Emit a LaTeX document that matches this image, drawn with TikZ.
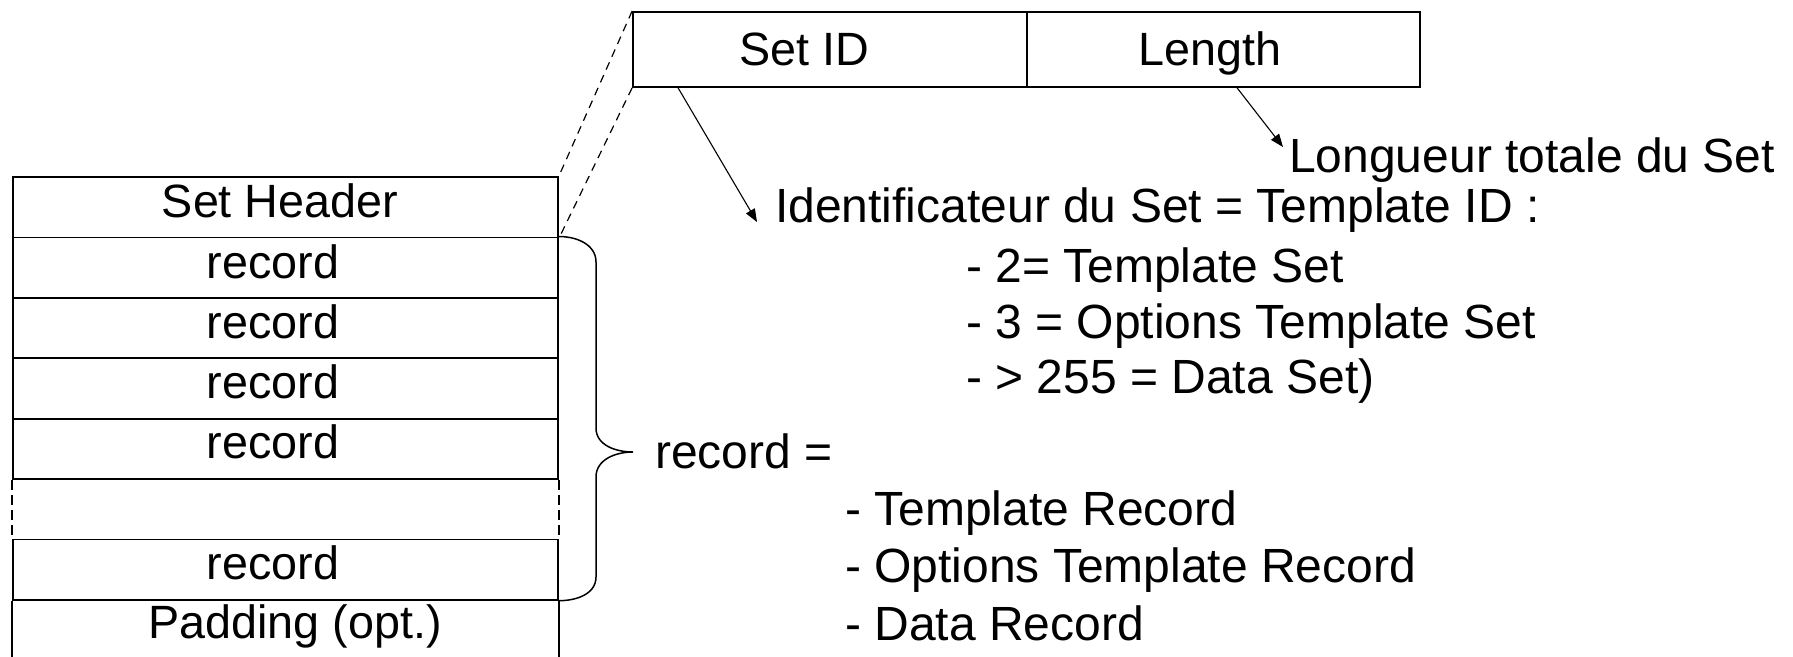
\documentclass[tikz,border=0pt]{standalone}
\usepackage{fontspec}
\setmainfont{Liberation Sans}
\usetikzlibrary{arrows.meta}
\begin{document}
\begin{tikzpicture}[x=1pt,y=-1pt,
  txt/.style={inner sep=0pt, font=\fontsize{46.7}{56}\selectfont},
  ctxt/.style={txt, anchor=base},
  lbl/.style={inner sep=0pt, anchor=base west, font=\fontsize{48}{57}\selectfont},
  cell/.style={draw, line width=1.8pt, inner sep=0pt, minimum width=545pt,
    minimum height=60.4pt},
  hcell/.style={draw, line width=1.8pt, inner sep=0pt, minimum height=75pt},
  frame/.style={line width=1.8pt},
  gapline/.style={line width=1.8pt, dash pattern=on 10pt off 5pt},
  zoomline/.style={line width=1.2pt, dash pattern=on 8pt off 6pt},
  arr/.style={line width=1.1pt, -{Triangle[length=13pt,width=10pt]}},
  brace/.style={line width=1.5pt}]
\useasboundingbox (0,0) rectangle (1793,656);

% set layout: header, records, gap, last record, padding
\node[cell] (hdr) at (285.5,207.2) {};
\node[cell] (r1) at (285.5,267.6) {};
\node[cell] (r2) at (285.5,328.0) {};
\node[cell] (r3) at (285.5,388.4) {};
\node[cell] (r4) at (285.5,448.8) {};
\node[cell] (r5) at (285.5,569.6) {};
\node[ctxt] (hdrt) at (280,217) {Set Header};
\node[ctxt] (r1t) at (273,278) {record};
\node[ctxt] (r2t) at (273,338) {record};
\node[ctxt] (r3t) at (273,398) {record};
\node[ctxt] (r4t) at (273,458) {record};
\node[ctxt] (r5t) at (273,579) {record};
\draw[gapline] (r4.south west) -- (r5.north west);
\draw[gapline] (r4.south east) -- (r5.north east);
\coordinate (padL) at ([yshift=-60pt]r5.south west);
\coordinate (padR) at ([yshift=-60pt]r5.south east);
\draw[frame] (r5.south west) -- (padL);
\draw[frame] (r5.south east) -- (padR);
\node[ctxt] (pad) at (295,638) {Padding (opt.)};

% set header fields
\node[hcell, minimum width=394pt] (sid) at (830,49.5) {};
\node[hcell, minimum width=393pt] (len) at (1223.5,49.5) {};
\node[ctxt] (sidt) at (804,65) {Set ID};
\node[ctxt] (lent) at (1210,65) {Length};

% zoom lines from the header cell to its fields
\draw[zoomline] (sid.north west) -- (hdr.north east);
\draw[zoomline] (sid.south west) -- (hdr.south east);

% descriptions
\node[lbl] (lon) at (1289,172) {Longueur totale du Set};
\node[lbl] (idt) at (775,222) {Identificateur du Set = Template ID :};
\node[lbl] (v2) at (966,282) {- 2= Template Set};
\node[lbl] (v3) at (966,338) {- 3 = Options Template Set};
\node[lbl] (v255) at (966,393) {- > 255 = Data Set)};
\node[lbl] (rec) at (655,468) {record =};
\node[lbl] (tr) at (845,525) {- Template Record};
\node[lbl] (otr) at (845,582) {- Options Template Record};
\node[lbl] (dr) at (845,640) {- Data Record};

\draw[arr] ([xshift=46pt]sid.south west) -- ([xshift=-18pt]idt.base west);
\draw[arr] ([xshift=211pt]len.south west) -- ([xshift=-6pt,yshift=25pt]lon.base west);

% brace over the records
\draw[brace] (r1.north east) to[out=0,in=90] (596,262) -- (596,428)
  to[out=-90,in=180] (633,452) to[out=180,in=90] (596,477) -- (596,577)
  to[out=-90,in=0] (r5.south east);
\end{tikzpicture}
\end{document}
